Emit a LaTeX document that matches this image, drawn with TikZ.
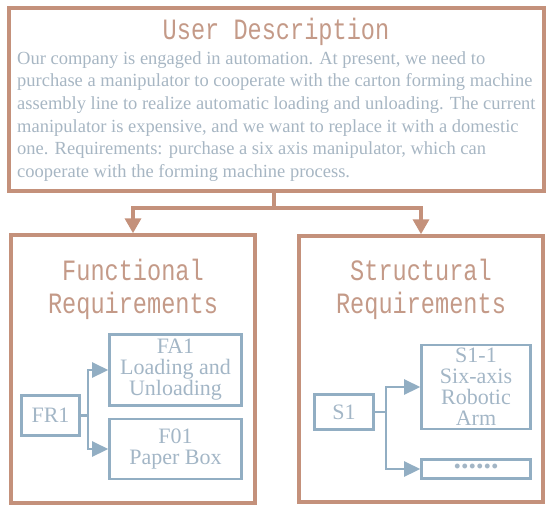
\documentclass[tikz,border=0pt]{standalone}
\usepackage{fontspec}
\setmainfont{Liberation Serif}
\newfontfamily\headfont[FakeStretch=0.8]{Liberation Mono}
\usetikzlibrary{arrows.meta}
\definecolor{rust}{HTML}{C4917B}
\definecolor{rusttext}{HTML}{C49A88}
\definecolor{steel}{HTML}{92AEC3}
\definecolor{steeltext}{HTML}{A3B6C6}
\definecolor{greytext}{HTML}{A7B6C3}
\begin{document}
\begin{tikzpicture}[x=1pt, y=-1pt,
    outer/.style={rectangle, draw=rust, line width=3.5pt, inner sep=0pt},
    inner/.style={rectangle, draw=steel, line width=2.6pt, inner sep=0pt,
                  align=center, text=steeltext,
                  font=\fontsize{22}{21}\selectfont},
    head/.style={text=rusttext, align=center, inner sep=0pt,
                 font=\headfont\fontsize{29.5}{33}\selectfont},
    body/.style={text=greytext, align=left, inner sep=0pt,
                 font=\fontsize{18.5}{22.7}\selectfont},
    rarr/.style={draw=rust, line width=3.5pt, -{Triangle[length=15pt, width=16pt]}},
    rline/.style={draw=rust, line width=3.5pt},
    barr/.style={draw=steel, line width=2.6pt, -{Triangle[length=16pt, width=15pt]}},
]
    \useasboundingbox (0,0) rectangle (550,512);
    % user description
    \node[outer, minimum width=535pt, minimum height=183pt] (desc) at (276.5,99.5) {};
    \node[head] (desctitle) at (276,32) {User Description};
    \node[body, anchor=north west] (desctext) at (17,51) {Our company is engaged in automation. At present, we need to\\
        purchase a manipulator to cooperate with the carton forming machine\\
        assembly line to realize automatic loading and unloading. The current\\
        manipulator is expensive, and we want to replace it with a domestic\\
        one. Requirements: purchase a six axis manipulator, which can\\
        cooperate with the forming machine process.};
    % requirement boxes
    \node[outer, minimum width=244pt, minimum height=268pt] (func) at (133,369) {};
    \node[outer, minimum width=244pt, minimum height=266pt] (struct) at (421,369) {};
    \node[head] (functitle) at (133,289) {Functional\\Requirements};
    \node[head] (structtitle) at (421,289) {Structural\\Requirements};
    \coordinate (split) at (274,208);
    \draw[rline] (desc.south -| split) -- (split);
    \draw[rarr] (split) -| (func.north);
    \draw[rarr] (split) -| (struct.north);
    % functional
    \node[inner, minimum width=58pt, minimum height=40pt] (fr1) at (50.5,415.5) {FR1};
    \node[inner, minimum width=132pt, minimum height=71pt] (fa1) at (175.5,370) {FA1\\Loading and\\Unloading};
    \node[inner, minimum width=132pt, minimum height=60pt] (f01) at (175.5,449) {F01\\Paper Box};
    \draw[barr] (fr1.east) -- ++(7,0) |- (fa1.west);
    \draw[barr] (fr1.east) -- ++(7,0) |- (f01.west);
    % structural
    \node[inner, minimum width=59pt, minimum height=35pt] (s1) at (344,412) {S1};
    \node[inner, minimum width=109pt, minimum height=19pt, font=\bfseries\fontsize{30}{30}\selectfont] (more) at (476,469) {\raisebox{5.5pt}{......}};
    \node[inner, minimum width=109pt, minimum height=84pt] (s11) at (476,387) {S1-1\\Six-axis\\Robotic\\Arm};
    \draw[barr] (s1.east) -- ++(11,0) |- (s11.west);
    \draw[barr] (s1.east) -- ++(11,0) |- (more.west);
\end{tikzpicture}
\end{document}
